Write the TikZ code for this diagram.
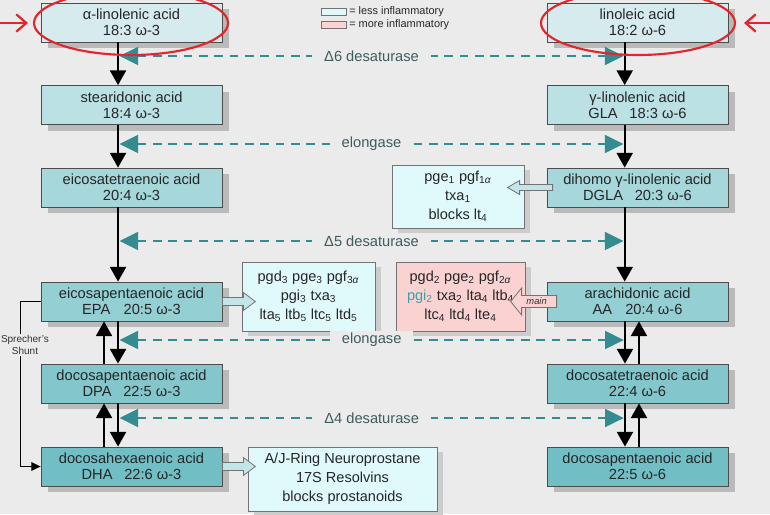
\documentclass[tikz,border=0pt]{standalone}
\usepackage{fontspec}
\setmainfont{Liberation Sans}
\usetikzlibrary{arrows.meta,calc,shadows}
\definecolor{bg}{HTML}{EBEBEB}
\definecolor{rowA}{HTML}{D6EBEE}
\definecolor{rowB}{HTML}{BBE1E4}
\definecolor{rowC}{HTML}{A5D7DB}
\definecolor{rowD}{HTML}{94CFD3}
\definecolor{rowE}{HTML}{83C7CC}
\definecolor{rowF}{HTML}{71BFC5}
\definecolor{tealc}{HTML}{358C90}
\definecolor{labc}{HTML}{3E5C5E}
\definecolor{sidec}{HTML}{E0FAFC}
\definecolor{pinkc}{HTML}{FAD2D2}
\definecolor{redc}{HTML}{E3262B}
\definecolor{fatc}{HTML}{C3E5E8}
\definecolor{pgic}{HTML}{3AA2AA}
\begin{document}
\begin{tikzpicture}[x=0.75pt,y=-0.75pt,
  box/.style={draw=black!70, line width=0.6pt, minimum width=135.75pt, minimum height=29.25pt,
    inner sep=0pt, align=center, font=\fontsize{11}{12}\selectfont, text=black!85,
    drop shadow={shadow xshift=5pt, shadow yshift=-4.5pt, fill=black!27, opacity=1}},
  sidebox/.style={draw=black!55, line width=0.6pt, inner sep=0pt, align=center,
    font=\fontsize{10.9}{14.2}\selectfont, text=black!85, fill=sidec,
    drop shadow={shadow xshift=4.5pt, shadow yshift=-4pt, fill=black!20, opacity=1}},
  vline/.style={line width=1.4pt, -{Triangle[length=11pt,width=12pt]}},
  enz/.style={line width=1.5pt, tealc, dash pattern=on 6.5pt off 5pt,
    {Triangle[length=14pt,width=13.5pt]}-{Triangle[length=14pt,width=13.5pt]}},
  enzlab/.style={fill=bg, text=labc, font=\fontsize{11}{13}\selectfont, inner xsep=9pt, inner ysep=2pt},
  fat/.style={fill=fatc, draw=black!55, line width=0.6pt},
  redarr/.style={redc, line width=1.7pt, -{Straight Barb[length=7.5pt,width=13pt]}},
  redring/.style={redc, line width=1.6pt},
  leg/.style={draw=black!55, line width=0.5pt, minimum width=18.75pt, minimum height=5.25pt, inner sep=0pt},
  legtext/.style={anchor=west, inner sep=0pt, font=\fontsize{8.2}{10}\selectfont, text=black!85}
]
\useasboundingbox (0,0) rectangle (770,514);
\fill[bg] (0,0) rectangle (770,514);

% main boxes, omega-3 column
\node[box, fill=rowA] (ala) at (131.5,22.5) {α-linolenic acid\\18:3 ω-3};
\node[box, fill=rowB] (sda) at (131.5,105) {stearidonic acid\\18:4 ω-3};
\node[box, fill=rowC] (eta) at (131.5,187.5) {eicosatetraenoic acid\\20:4 ω-3};
\node[box, fill=rowD] (epa) at (131.5,301.5) {eicosapentaenoic acid\\EPA\hspace{0.9em}20:5 ω-3};
\node[box, fill=rowE] (dpa) at (131.5,383.5) {docosapentaenoic acid\\DPA\hspace{0.8em}22:5 ω-3};
\node[box, fill=rowF] (dha) at (131.5,466.5) {docosahexaenoic acid\\DHA\hspace{0.8em}22:6 ω-3};

% main boxes, omega-6 column
\node[box, fill=rowA] (la) at (637.5,22.5) {linoleic acid\\18:2 ω-6};
\node[box, fill=rowB] (gla) at (637.5,105) {γ-linolenic acid\\GLA\hspace{0.8em}18:3 ω-6};
\node[box, fill=rowC] (dgla) at (637.5,187.5) {dihomo γ-linolenic acid\\DGLA\hspace{0.8em}20:3 ω-6};
\node[box, fill=rowD] (aa) at (637.5,301.5) {arachidonic acid\\AA\hspace{0.9em}20:4 ω-6};
\node[box, fill=rowE] (dta) at (637.5,383.5) {docosatetraenoic acid\\22:4 ω-6};
\node[box, fill=rowF] (dpb) at (637.5,466.5) {docosapentaenoic acid\\22:5 ω-6};

% side boxes
\node[sidebox, minimum width=99pt, minimum height=47.25pt] (s1) at (458,196.5)
  {pge\textsubscript{1} pgf\textsubscript{1\textit{α}}\\txa\textsubscript{1}\\blocks lt\textsubscript{4}};
\node[sidebox, minimum width=99.75pt, minimum height=51.75pt] (s3) at (308.5,296.5)
  {pgd\textsubscript{3} pge\textsubscript{3} pgf\textsubscript{3\textit{α}}\\pgi\textsubscript{3} txa\textsubscript{3}\\lta\textsubscript{5} ltb\textsubscript{5} ltc\textsubscript{5} ltd\textsubscript{5}};
\node[sidebox, fill=pinkc, minimum width=96.75pt, minimum height=51.75pt] (s2) at (460.5,296.5)
  {pgd\textsubscript{2} pge\textsubscript{2} pgf\textsubscript{2\textit{α}}\\\textcolor{pgic}{pgi\textsubscript{2}} txa\textsubscript{2} lta\textsubscript{4} ltb\textsubscript{4}\\ltc\textsubscript{4} ltd\textsubscript{4} lte\textsubscript{4}};
\node[sidebox, minimum width=141.75pt, minimum height=48pt] (s4) at (342.5,479)
  {A/J-Ring Neuroprostane\\17S Resolvins\\blocks prostanoids};

% vertical arrows, omega-3
\draw[vline] ([xshift=-10.1pt]ala.south) -- ([xshift=-10.1pt]sda.north);
\draw[vline] ([xshift=-10.1pt]sda.south) -- ([xshift=-10.1pt]eta.north);
\draw[vline] ([xshift=-10.1pt]eta.south) -- ([xshift=-10.1pt]epa.north);
\draw[vline] ([xshift=-10.1pt]epa.south) -- ([xshift=-10.1pt]dpa.north);
\draw[vline] ([xshift=-10.1pt]dpa.south) -- ([xshift=-10.1pt]dha.north);
\draw[vline] ([xshift=-20.6pt]dpa.north) -- ([xshift=-20.6pt]epa.south);
\draw[vline] ([xshift=-20.6pt]dha.north) -- ([xshift=-20.6pt]dpa.south);

% vertical arrows, omega-6
\draw[vline] ([xshift=-9.6pt]la.south) -- ([xshift=-9.6pt]gla.north);
\draw[vline] ([xshift=-9.6pt]gla.south) -- ([xshift=-9.6pt]dgla.north);
\draw[vline] ([xshift=-9.6pt]dgla.south) -- ([xshift=-9.6pt]aa.north);
\draw[vline] ([xshift=-9.4pt]aa.south) -- ([xshift=-9.4pt]dta.north);
\draw[vline] ([xshift=-9.4pt]dta.south) -- ([xshift=-9.4pt]dpb.north);
\draw[vline] ([xshift=1.1pt]dta.north) -- ([xshift=1.1pt]aa.south);
\draw[vline] ([xshift=1.1pt]dpb.north) -- ([xshift=1.1pt]dta.south);

% enzyme arrows
\coordinate (e1l) at (119.5,56);  \coordinate (e1r) at (623.5,56);
\coordinate (e2l) at (119.5,144); \coordinate (e2r) at (623.5,144);
\coordinate (e3l) at (119.5,241); \coordinate (e3r) at (623.5,241);
\coordinate (e4l) at (119.5,340); \coordinate (e4r) at (623.8,340);
\coordinate (e5l) at (119.5,418); \coordinate (e5r) at (623.8,418);
\draw[enz] (e1l) -- (e1r) node[midway, enzlab] (l1) {Δ6 desaturase};
\draw[enz] (e2l) -- (e2r) node[midway, enzlab] (l2) {elongase};
\draw[enz] (e3l) -- (e3r) node[midway, enzlab] (l3) {Δ5 desaturase};
\draw[enz] (e4l) -- (e4r) node[midway, enzlab] (l4) {elongase};
\draw[enz] (e5l) -- (e5r) node[midway, enzlab] (l5) {Δ4 desaturase};

% fat arrows to side boxes
\draw[fat] ($(dgla.west)+(6,-3)$) -- ($(dgla.west)+(-27,-3)$) -- ($(dgla.west)+(-27,-7)$)
  -- ($(dgla.west)+(-39,0)$) -- ($(dgla.west)+(-27,7)$) -- ($(dgla.west)+(-27,3)$)
  -- ($(dgla.west)+(6,3)$) -- cycle;
\draw[fat] ($(epa.east)+(0,-4)$) -- ($(epa.east)+(21,-4)$) -- ($(epa.east)+(21,-9)$)
  -- ($(epa.east)+(33,0)$) -- ($(epa.east)+(21,9)$) -- ($(epa.east)+(21,4)$)
  -- ($(epa.east)+(0,4)$) -- cycle;
\draw[fat] ($(dha.east)+(0,-4)$) -- ($(dha.east)+(21,-4)$) -- ($(dha.east)+(21,-9)$)
  -- ($(dha.east)+(33,0)$) -- ($(dha.east)+(21,9)$) -- ($(dha.east)+(21,4)$)
  -- ($(dha.east)+(0,4)$) -- cycle;
\draw[fill=pinkc, draw=black!55, line width=0.6pt]
  ($(aa.west)+(10,-6)$) -- ($(aa.west)+(-25,-6)$) -- ($(aa.west)+(-25,-13.5)$)
  -- ($(aa.west)+(-36,0)$) -- ($(aa.west)+(-25,13.5)$) -- ($(aa.west)+(-25,6)$)
  -- ($(aa.west)+(10,6)$) -- cycle;
\node[font=\fontsize{7}{8}\selectfont\itshape, text=black!80, inner sep=0pt] (mainlab)
  at ($(aa.west)+(-10,-0.5)$) {main};

% Sprecher's shunt
\draw[line width=1pt, -{Triangle[length=7pt,width=6.5pt]}] (epa.west) -- ++(-20,0) |- (dha.west);
\node[fill=bg, inner sep=1pt, align=center, font=\fontsize{7.5}{8.5}\selectfont, text=black!80] (shunt)
  at (25,345) {Sprecher's\\Shunt};

% legend
\node[leg, fill=sidec] (leg1) at (333.5,11.5) {};
\node[leg, fill=pinkc] (leg2) at (333.5,25) {};
\node[legtext] (lt1) at (349,11.5) {= less inflammatory};
\node[legtext] (lt2) at (349,25) {= more inflammatory};

% red highlights
\draw[redring] (131,23) ellipse [x radius=72.75pt, y radius=24pt];
\draw[redring] (638,23) ellipse [x radius=72.75pt, y radius=24pt];
\coordinate (r1s) at (-2,23); \coordinate (r1e) at (28,23);
\coordinate (r2s) at (772,23); \coordinate (r2e) at (744,23);
\draw[redarr] (r1s) -- (r1e);
\draw[redarr] (r2s) -- (r2e);
\end{tikzpicture}
\end{document}
